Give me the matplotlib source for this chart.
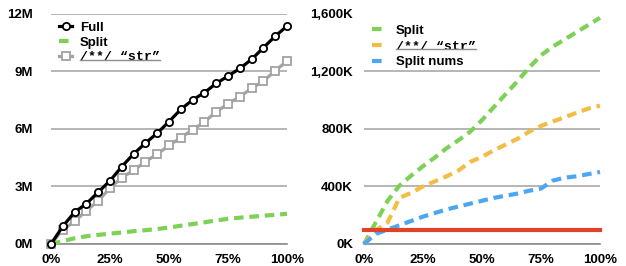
import numpy as np
import matplotlib
matplotlib.use("Agg")
import matplotlib.pyplot as plt
from matplotlib.lines import Line2D
from matplotlib.font_manager import FontProperties

# ---- data ----
pct = [0, 5, 10, 15, 20, 25, 30, 35, 40, 45, 50, 55, 60, 65, 70, 75, 80, 85, 90, 95, 100]

# left chart, millions
full_m = [0, 0.92, 1.66, 2.10, 2.70, 3.29, 4.03, 4.69, 5.25, 5.77, 6.37,
          7.01, 7.50, 7.88, 8.36, 8.74, 9.14, 9.61, 10.22, 10.82, 11.34]
str_m = [0, 0.74, 1.18, 1.73, 2.25, 2.91, 3.46, 3.83, 4.29, 4.68, 5.13,
         5.54, 5.94, 6.35, 6.89, 7.29, 7.67, 8.10, 8.48, 9.02, 9.52]

# right chart, thousands
split_k = [0, 150, 300, 405, 475, 540, 600, 665, 720, 780, 860,
           950, 1040, 1130, 1225, 1310, 1370, 1420, 1470, 1520, 1570]
str_k = [0, 95, 150, 320, 355, 400, 435, 470, 510, 570, 605,
         650, 690, 730, 780, 820, 850, 880, 910, 940, 960]
nums_k = [0, 70, 100, 130, 160, 190, 215, 240, 260, 280, 300,
          320, 335, 350, 370, 385, 440, 460, 470, 485, 500]
baseline_k = 100

left_ticks = [0, 3, 6, 9, 12]
left_labels = ["0M", "3M", "6M", "9M", "12M"]
right_ticks = [0, 400, 800, 1200, 1600]
right_labels = ["0K", "400K", "800K", "1,200K", "1,600K"]
x_ticks = [0, 25, 50, 75, 100]
x_labels = ["0%", "25%", "50%", "75%", "100%"]

STR_LABEL = "/**/ \u201cstr\u201d"

GREEN = "#7dd156"
ORANGE = "#f3bd45"
BLUE = "#4ea6f3"
RED = "#de4329"
GRAY = "#a2a2a2"
DASH = (2.3, 1.4)

plt.rcParams["font.family"] = ["Liberation Sans", "DejaVu Sans"]
plt.rcParams["font.weight"] = "bold"
plt.rcParams["font.size"] = 9

fig = plt.figure(figsize=(6.26, 2.66), dpi=100)
ax1 = fig.add_axes([51 / 626, 22 / 266, 236 / 626, 230.5 / 266])
ax2 = fig.add_axes([364 / 626, 22 / 266, 236 / 626, 230.5 / 266])


def style_axes(ax, ticks, labels, ymax, ypad):
    ax.set_xlim(0, 100)
    ax.set_ylim(0, ymax)
    for s in ["left", "right", "top"]:
        ax.spines[s].set_visible(False)
    ax.spines["bottom"].set_color("#8c8c8c")
    ax.spines["bottom"].set_linewidth(1.2)
    ax.set_yticks(ticks)
    ax.set_yticklabels(labels)
    ax.set_xticks(x_ticks)
    ax.set_xticklabels(x_labels)
    ax.tick_params(axis="y", length=0, pad=ypad, labelsize=9.5)
    ax.tick_params(axis="x", length=0, pad=7, labelsize=9.5)
    ax.grid(axis="y", color=GRAY, linewidth=1.1)
    ax.set_axisbelow(True)


style_axes(ax1, left_ticks, left_labels, 12, 13)
style_axes(ax2, right_ticks, right_labels, 1600, 8)

# ---- left chart ----
l_full, = ax1.plot(pct, full_m, color="black", lw=2.3, marker="o", ms=5.2,
                   mfc="white", mec="black", mew=1.3, clip_on=False, zorder=4,
                   label="Full")
l_split, = ax1.plot(pct, np.array(split_k) / 1000, color=GREEN, lw=3,
                    dashes=DASH, clip_on=False, zorder=3, label="Split")
l_str, = ax1.plot(pct, str_m, color=GRAY, lw=2.3, marker="s", ms=5.2,
                  mfc="white", mec=GRAY, mew=1.3, clip_on=False, zorder=3,
                  label=STR_LABEL)

leg1 = ax1.legend(handles=[l_full, l_split, l_str], loc="upper left",
                  bbox_to_anchor=(0.0, 1.0), frameon=False, handlelength=1.0,
                  handletextpad=0.6, labelspacing=0.2, borderaxespad=0.2,
                  fontsize=9.5, numpoints=1)

# ---- right chart ----
r_split, = ax2.plot(pct, split_k, color=GREEN, lw=3, dashes=DASH,
                    clip_on=False, zorder=3, label="Split")
r_str, = ax2.plot(pct, str_k, color=ORANGE, lw=3, dashes=DASH,
                  clip_on=False, zorder=3, label=STR_LABEL)
r_nums, = ax2.plot(pct, nums_k, color=BLUE, lw=3, dashes=DASH,
                   clip_on=False, zorder=3, label="Split nums")
ax2.plot([0, 100], [baseline_k, baseline_k], color=RED, lw=3, zorder=4,
         clip_on=False)

leg2 = ax2.legend(handles=[r_split, r_str, r_nums], loc="upper left",
                  bbox_to_anchor=(0.0, 0.985), frameon=False, handlelength=1.1,
                  handletextpad=0.7, labelspacing=0.25, borderaxespad=0.2,
                  fontsize=9.5)

# the "str" label is monospaced and struck through
mono = FontProperties(family=["Liberation Mono", "DejaVu Sans Mono"],
                      weight="bold", size=9.5)
str_texts = [t for leg in (leg1, leg2) for t in leg.get_texts()
             if t.get_text() == STR_LABEL]
for t in str_texts:
    t.set_fontproperties(mono)

fig.canvas.draw()
inv = fig.transFigure.inverted()
for t in str_texts:
    bb = t.get_window_extent().transformed(inv)
    y = bb.y0 + 0.28 * bb.height
    fig.add_artist(Line2D([bb.x0, bb.x1], [y, y], color="#8c8c8c", lw=1.0,
                          transform=fig.transFigure))

fig.savefig("out.png", dpi=100)
